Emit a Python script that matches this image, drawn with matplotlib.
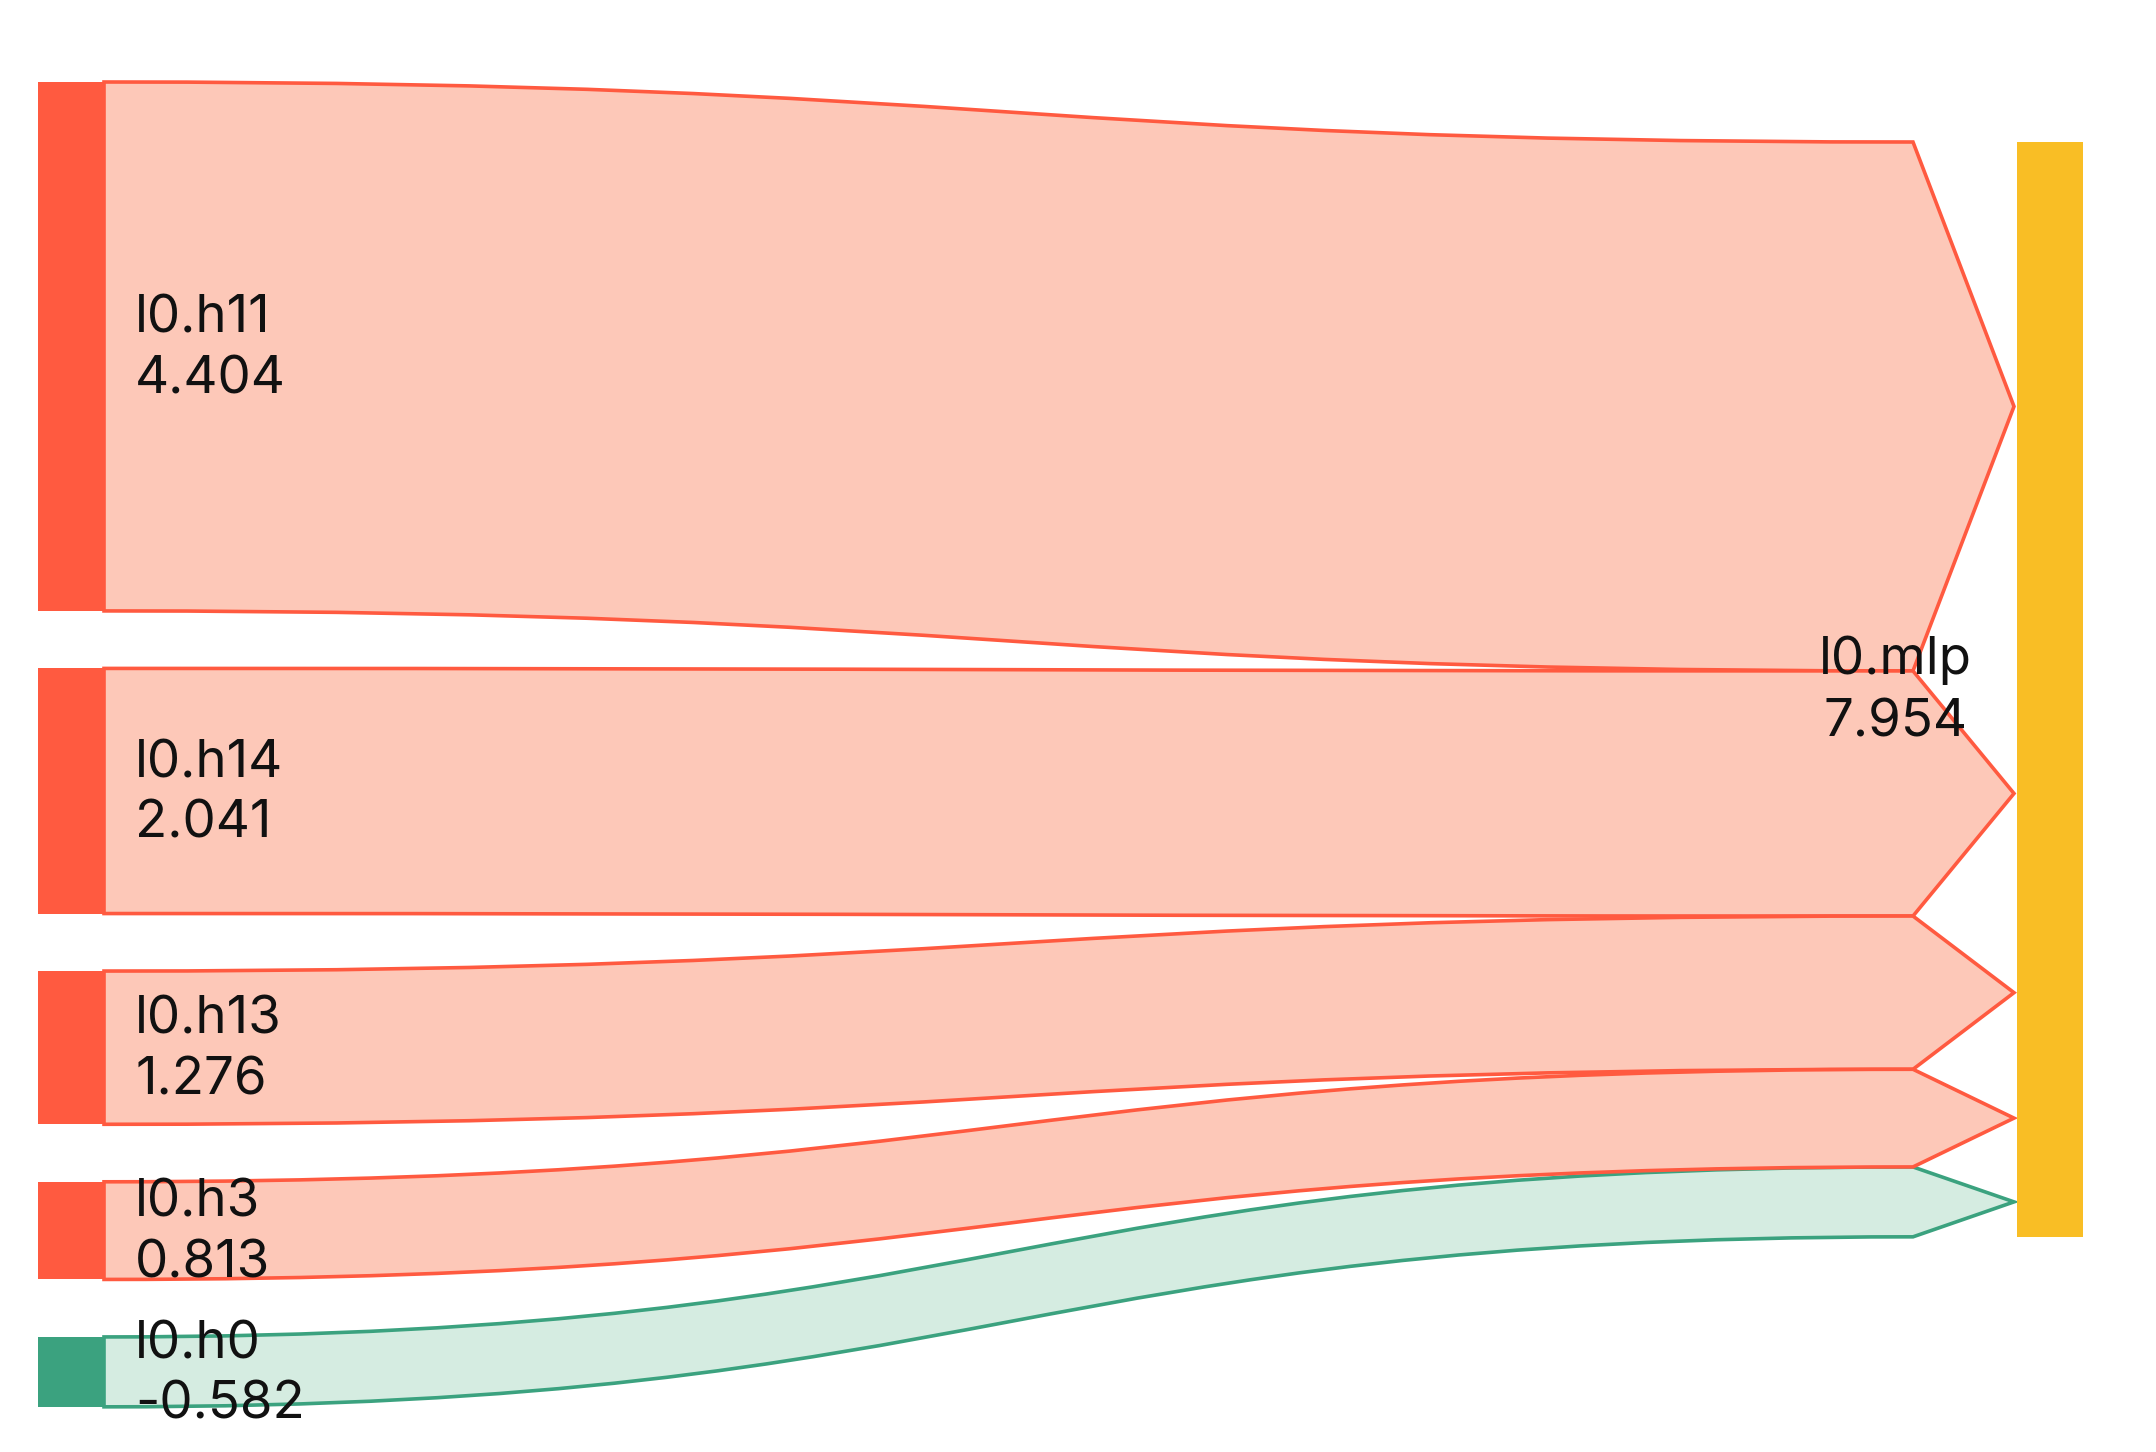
import matplotlib.pyplot as plt
from matplotlib.path import Path
from matplotlib.patches import PathPatch, Rectangle

# Flows into l0.mlp
sources = ['l0.h11', 'l0.h14', 'l0.h13', 'l0.h3', 'l0.h0']
values = [4.404, 2.041, 1.276, 0.813, -0.582]
target = 'l0.mlp'
target_value = 7.954

# colours
RED, RED_LIGHT = '#FF5A40', '#FDC8B8'
GREEN, GREEN_LIGHT = '#3BA27F', '#D5ECE1'
YELLOW = '#F9BE25'

# layout (pixels of the 2156x1452 canvas)
W, H = 2156, 1452
SCALE = 120.1          # px per unit of |value|
GAP = 57.5
LEFT_X0, LEFT_X1 = 38, 104
RIGHT_X0, RIGHT_X1 = 2017, 2083
ARROW_BASE, ARROW_TIP = 1913, 2014
TOP_LEFT, TOP_RIGHT = 82, 142
FS = 38
LW = 2.6

plt.rcParams['font.family'] = ['Inter', 'DejaVu Sans']

fig = plt.figure(figsize=(W / 100, H / 100), dpi=100)
ax = fig.add_axes([0, 0, 1, 1])
ax.set_xlim(0, W)
ax.set_ylim(H, 0)
ax.axis('off')


def link_path(x0, y0a, y0b, x1, y1a, y1b, xtip):
    xm = (x0 + x1) / 2
    yc = (y1a + y1b) / 2
    verts = [(x0, y0a), (xm, y0a), (xm, y1a), (x1, y1a),
             (xtip, yc), (x1, y1b),
             (xm, y1b), (xm, y0b), (x0, y0b), (x0, y0a)]
    codes = [Path.MOVETO, Path.CURVE4, Path.CURVE4, Path.CURVE4,
             Path.LINETO, Path.LINETO,
             Path.CURVE4, Path.CURVE4, Path.CURVE4, Path.CLOSEPOLY]
    return Path(verts, codes)


# stack positions
left_y = []
y = TOP_LEFT
for v in values:
    h = abs(v) * SCALE
    left_y.append((y, y + h))
    y += h + GAP

right_y = []
y = TOP_RIGHT
for v in values:
    h = abs(v) * SCALE
    right_y.append((y, y + h))
    y += h
total = sum(abs(v) for v in values)

# links (negative one first so the others sit on top of it)
order = [i for i in range(len(values)) if values[i] < 0] + \
        [i for i in range(len(values)) if values[i] >= 0]
for i in order:
    v = values[i]
    dark, light = (RED, RED_LIGHT) if v >= 0 else (GREEN, GREEN_LIGHT)
    (ya, yb), (ra, rb) = left_y[i], right_y[i]
    p = link_path(LEFT_X1, ya, yb, ARROW_BASE, ra, rb, ARROW_TIP)
    ax.add_patch(PathPatch(p, facecolor=light, edgecolor=dark, lw=LW,
                           joinstyle='miter', zorder=1))

# source nodes and labels
for i, (name, v) in enumerate(zip(sources, values)):
    ya, yb = left_y[i]
    ax.add_patch(Rectangle((LEFT_X0, ya), LEFT_X1 - LEFT_X0, yb - ya,
                           color=RED if v >= 0 else GREEN, lw=0, zorder=2))
    ax.text(135, (ya + yb) / 2 + 3, f'{name}\n{v:.3f}', fontsize=FS,
            ha='left', va='center', linespacing=1.3,
            color='#111111', zorder=5)

# target node
ax.add_patch(Rectangle((RIGHT_X0, TOP_RIGHT), RIGHT_X1 - RIGHT_X0,
                       total * SCALE, color=YELLOW, lw=0, zorder=2))
ax.text(1895, TOP_RIGHT + total * SCALE / 2 + 2, f'{target}\n{target_value:.3f}',
        fontsize=FS, ha='center', va='center', multialignment='center',
        linespacing=1.35, color='#111111', zorder=5)

fig.savefig('out.png', dpi=100)
